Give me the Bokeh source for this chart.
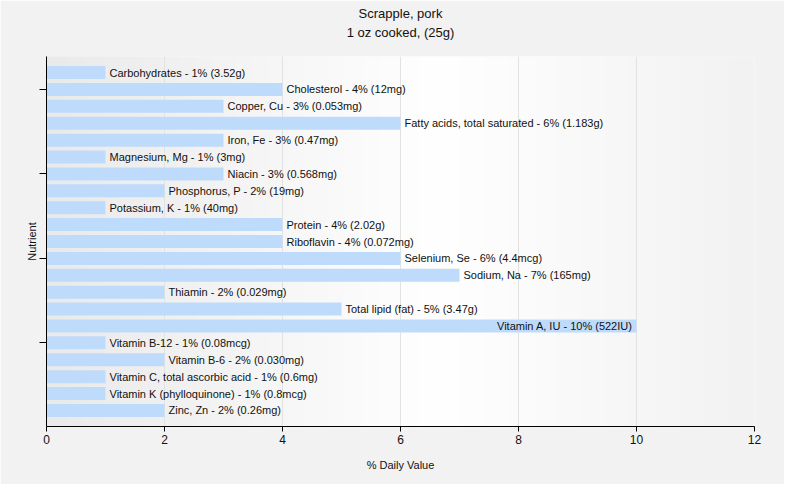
import numpy as np
from bokeh.plotting import figure
from bokeh.models import Range1d, FixedTicker, Title, ColumnDataSource
from bokeh.core.properties import value
from bokeh.embed import file_html
from bokeh.resources import INLINE

title_main = "Scrapple, pork"
title_sub = "1 oz cooked, (25g)"

nutrients = [
    "Carbohydrates", "Cholesterol", "Copper, Cu", "Fatty acids, total saturated",
    "Iron, Fe", "Magnesium, Mg", "Niacin", "Phosphorus, P", "Potassium, K",
    "Protein", "Riboflavin", "Selenium, Se", "Sodium, Na", "Thiamin",
    "Total lipid (fat)", "Vitamin A, IU", "Vitamin B-12", "Vitamin B-6",
    "Vitamin C, total ascorbic acid", "Vitamin K (phylloquinone)", "Zinc, Zn",
]
percent_dv = [1, 4, 3, 6, 3, 1, 3, 2, 1, 4, 4, 6, 7, 2, 5, 10, 1, 2, 1, 1, 2]
amounts = [
    "3.52g", "12mg", "0.053mg", "1.183g", "0.47mg", "3mg", "0.568mg", "19mg",
    "40mg", "2.02g", "0.072mg", "4.4mcg", "165mg", "0.029mg", "3.47g", "522IU",
    "0.08mcg", "0.030mg", "0.6mg", "0.8mcg", "0.26mg",
]
x_ticks = [0, 2, 4, 6, 8, 10, 12]
y_ticks = [1, 6, 11, 16]
x_max = 12

FONT = "Liberation Sans"

idx = list(range(len(nutrients)))
labels = [f"{n} - {p}% ({a})" for n, p, a in zip(nutrients, percent_dv, amounts)]
inside = [p >= 9 for p in percent_dv]

src = ColumnDataSource(dict(y=idx, v=percent_dv, label=labels))
src_out = ColumnDataSource(dict(
    y=[i for i, f in zip(idx, inside) if not f],
    v=[v for v, f in zip(percent_dv, inside) if not f],
    label=[l for l, f in zip(labels, inside) if not f]))
src_in = ColumnDataSource(dict(
    y=[i for i, f in zip(idx, inside) if f],
    v=[v for v, f in zip(percent_dv, inside) if f],
    label=[l for l, f in zip(labels, inside) if f]))

p = figure(width=784, height=484, output_backend="svg", toolbar_location=None,
           x_range=Range1d(0, x_max), y_range=Range1d(len(nutrients) - 0.05, -0.95),
           min_border_left=46, min_border_right=30, min_border_top=56, min_border_bottom=58)
p.title = None
p.add_layout(Title(text=title_sub, align="center", text_font=FONT, text_font_size="13px",
                   text_font_style="normal", text_color="#111111", standoff=0,
                   padding=dict(left=0, right=0, top=0, bottom=17)), "above")
p.add_layout(Title(text=title_main, align="center", text_font=FONT, text_font_size="13px",
                   text_font_style="normal", text_color="#111111", standoff=0,
                   padding=dict(left=0, right=0, top=0, bottom=2)), "above")

p.border_fill_color = "#f2f2f2"
p.background_fill_color = "#f8f8f8"
p.outline_line_color = None

# background gradient of the plot area
stops_x = [0.0, 0.55, 1.0]
stops_c = [234, 255, 242]
n = 200
g = np.interp(np.linspace(0, 1, n), stops_x, stops_c).astype(np.uint32)
img = np.empty((1, n), dtype=np.uint32)
view = img.view(dtype=np.uint8).reshape((1, n, 4))
view[0, :, 0] = g
view[0, :, 1] = g
view[0, :, 2] = g
view[0, :, 3] = 255
p.image_rgba(image=[img], x=0, y=-5, dw=x_max, dh=40, level="image")

p.hbar(y="y", right="v", left=0, height=0.77, source=src,
       fill_color="#bfdbfb", line_color=None)

p.text(x="v", y="y", text="label", source=src_out, x_offset=4,
       text_align="left", text_baseline="middle",
       text_font=value(FONT), text_font_size="11px", text_color="#111111")
p.text(x="v", y="y", text="label", source=src_in, x_offset=-4,
       text_align="right", text_baseline="middle",
       text_font=value(FONT), text_font_size="11px", text_color="#111111")

p.ygrid.visible = False
p.xgrid.ticker = FixedTicker(ticks=x_ticks)
p.xgrid.grid_line_color = "#e2e2e2"
p.xgrid.level = "underlay"

p.xaxis.ticker = FixedTicker(ticks=x_ticks)
p.xaxis.axis_label = "% Daily Value"
p.yaxis.ticker = FixedTicker(ticks=y_ticks)
p.yaxis.axis_label = "Nutrient"
p.yaxis.major_label_overrides = {t: "" for t in y_ticks}
p.yaxis.major_label_standoff = 0
p.yaxis.major_tick_out = 7
p.yaxis.axis_label_standoff = 2

for ax in (p.xaxis, p.yaxis):
    ax.axis_line_color = "black"
    ax.major_tick_line_color = "black"
    ax.major_tick_in = 0
    ax.minor_tick_line_color = None
    ax.axis_label_text_font = FONT
    ax.axis_label_text_font_size = "11px"
    ax.axis_label_text_font_style = "normal"
    ax.axis_label_text_color = "#111111"
    ax.major_label_text_font = FONT
    ax.major_label_text_color = "#111111"

p.yaxis.major_label_text_font_size = "11px"
p.xaxis.major_tick_out = 5
p.xaxis.major_label_text_font_size = "12px"
p.xaxis.major_label_standoff = 3
p.xaxis.axis_label_standoff = 12

open("out.html", "w").write(file_html(p, INLINE))
